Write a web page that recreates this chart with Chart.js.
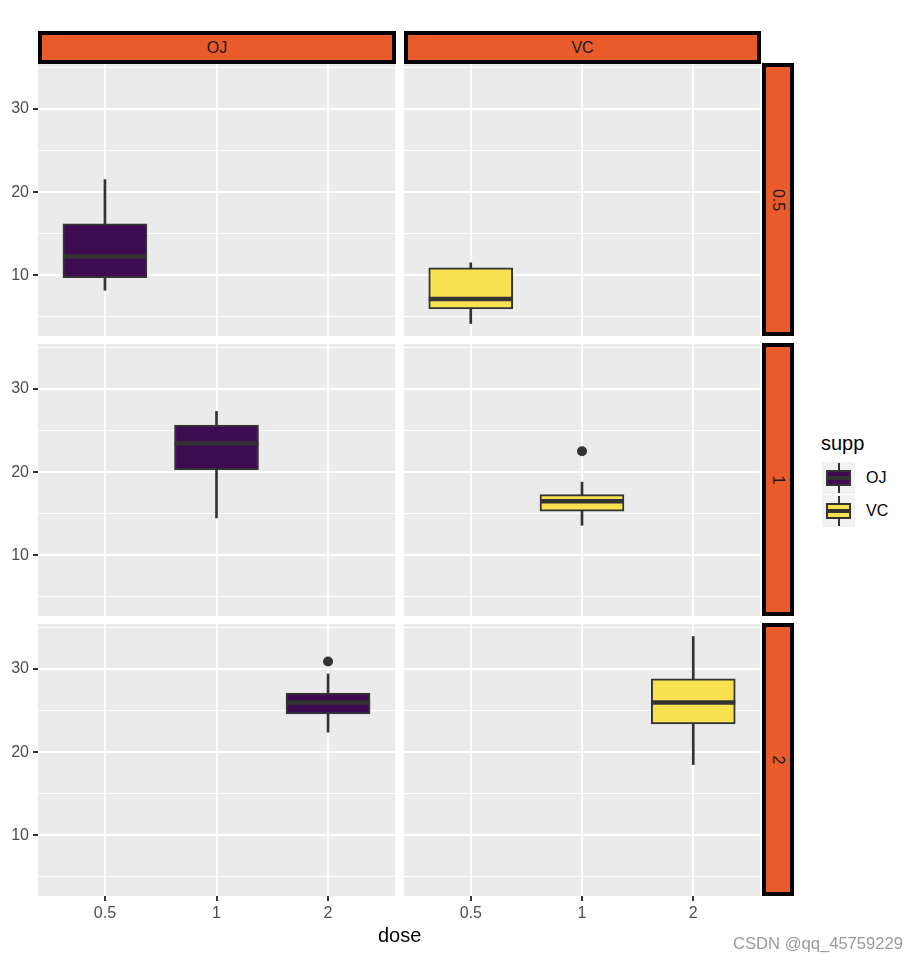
<!DOCTYPE html>
<html>
<head>
<meta charset="utf-8">
<script src="https://cdn.jsdelivr.net/npm/chart.js@4.4.1/dist/chart.umd.min.js"></script>
<style>
  body { margin: 0; background: #fff; width: 918px; height: 962px; position: relative; overflow: hidden;
         font-family: "Liberation Sans", Arial, sans-serif; }
  canvas.panel { position: absolute; }
  .strip { position: absolute; box-sizing: border-box; background: #EA5B2C; border: 4px solid #000;
           color: #1a1a1a; font-size: 16px; display: flex; align-items: center; justify-content: center; }
  .strip.side span { transform: rotate(90deg); white-space: nowrap; }
  .txt { position: absolute; white-space: nowrap; line-height: 1; }
  .key { position: absolute; left: 822px; width: 33px; height: 32px; background: #F2F2F2; }
  .key .wh { position: absolute; left: 15.5px; top: 1px; width: 2px; height: 30px; background: #333; }
  .key .bx { position: absolute; left: 4px; top: 8px; width: 25px; height: 16px; box-sizing: border-box;
             border: 2px solid #333; }
  .key .md { position: absolute; left: 4px; top: 14px; width: 25px; height: 4px; background: #333; }
</style>
</head>
<body>
<script>
// facets
const doses = ["0.5", "1", "2"];
const supps = ["OJ", "VC"];

// y axis
const yTicks = [10, 20, 30];
const yGrid = [5, 10, 15, 20, 25, 30, 35];
const yRange = [2.7, 35.4];

// box summaries per dose (len)
const ojLow = [8.2, 14.5, 22.4];
const ojQ1 = [9.7, 20.3, 24.6];
const ojMed = [12.25, 23.45, 25.95];
const ojQ3 = [16.2, 25.65, 27.1];
const ojHigh = [21.5, 27.3, 29.4];
const ojOut = [[], [], [30.9]];

const vcLow = [4.2, 13.6, 18.5];
const vcQ1 = [5.95, 15.3, 23.4];
const vcMed = [7.15, 16.5, 25.95];
const vcQ3 = [10.9, 17.3, 28.8];
const vcHigh = [11.5, 18.8, 33.9];
const vcOut = [[], [22.5], []];

const fills = ["#3E0A51", "#F9E250"];

// layout
const FONT = "'Liberation Sans', Arial, sans-serif";
const panelLeft = [38, 404];
const panelWidth = [357, 356];
const rowTop = [64, 344, 624];
const rowHeight = 272;
const yAxisW = 38;
const xAxisH = 40;

const series = {
  OJ: { low: ojLow, q1: ojQ1, med: ojMed, q3: ojQ3, high: ojHigh, out: ojOut },
  VC: { low: vcLow, q1: vcQ1, med: vcMed, q3: vcQ3, high: vcHigh, out: vcOut }
};

const panelBg = {
  id: "panelBg",
  beforeDraw(chart) {
    const a = chart.chartArea;
    chart.ctx.save();
    chart.ctx.fillStyle = "#EBEBEB";
    chart.ctx.fillRect(a.left, a.top, a.right - a.left, a.bottom - a.top);
    chart.ctx.restore();
  }
};

const medianLine = {
  id: "median",
  afterDatasetsDraw(chart, args, opts) {
    const bar = chart.getDatasetMeta(0).data[0];
    if (!bar) return;
    const y = chart.scales.y.getPixelForValue(opts.value);
    const ctx = chart.ctx;
    ctx.save();
    ctx.strokeStyle = "#333";
    ctx.lineWidth = 4.5;
    ctx.beginPath();
    ctx.moveTo(bar.x - bar.width / 2, y);
    ctx.lineTo(bar.x + bar.width / 2, y);
    ctx.stroke();
    ctx.restore();
  }
};

function makePanel(c, r) {
  const s = series[supps[c]];
  const xv = r + 1;
  const canvas = document.createElement("canvas");
  canvas.className = "panel";
  const w = (c === 0 ? yAxisW : 0) + panelWidth[c];
  const h = rowHeight + (r === 2 ? xAxisH : 0);
  canvas.width = w;
  canvas.height = h;
  canvas.style.left = (c === 0 ? 0 : panelLeft[c]) + "px";
  canvas.style.top = rowTop[r] + "px";
  document.body.appendChild(canvas);

  new Chart(canvas.getContext("2d"), {
    type: "bar",
    data: {
      datasets: [
        {
          data: [{ x: xv, y: [s.q1[r], s.q3[r]] }],
          backgroundColor: fills[c],
          borderColor: "#333",
          borderWidth: 2,
          borderSkipped: false,
          barThickness: 84,
          grouped: false,
          order: 1
        },
        {
          data: [{ x: xv, y: [s.low[r], s.high[r]] }],
          backgroundColor: "#333",
          borderWidth: 0,
          barThickness: 2,
          grouped: false,
          order: 2
        },
        {
          type: "scatter",
          data: s.out[r].map(v => ({ x: xv, y: v })),
          pointRadius: 5,
          backgroundColor: "#333",
          borderWidth: 0,
          order: 0
        }
      ]
    },
    options: {
      responsive: false,
      animation: false,
      events: [],
      layout: { padding: 0, autoPadding: false },
      plugins: {
        legend: { display: false },
        tooltip: { enabled: false },
        median: { value: s.med[r] }
      },
      scales: {
        x: {
          type: "linear",
          min: 0.4,
          max: 3.6,
          offset: false,
          afterBuildTicks: sc => { sc.ticks = doses.map((d, i) => ({ value: i + 1 })); },
          afterFit: sc => {
            sc.height = r === 2 ? xAxisH : 0;
            sc.paddingLeft = 0; sc.paddingRight = 0;
          },
          grid: { color: "#fff", lineWidth: 2, offset: false, drawTicks: r === 2,
                  tickLength: 5, tickColor: "#333", tickWidth: 2 },
          border: { display: false },
          ticks: {
            display: r === 2, autoSkip: false, maxRotation: 0, padding: 3,
            color: "#4D4D4D", font: { family: FONT, size: 16 },
            callback: v => doses[Math.round(v) - 1]
          }
        },
        y: {
          type: "linear",
          min: yRange[0],
          max: yRange[1],
          afterBuildTicks: sc => { sc.ticks = yGrid.map(v => ({ value: v })); },
          afterFit: sc => {
            sc.width = c === 0 ? yAxisW : 0;
            sc.paddingTop = 0; sc.paddingBottom = 0;
          },
          grid: {
            color: "#fff",
            lineWidth: ctx => (ctx.tick && yTicks.includes(ctx.tick.value)) ? 2 : 1,
            drawTicks: c === 0,
            tickLength: 5,
            tickWidth: 2,
            tickColor: ctx => (ctx.tick && yTicks.includes(ctx.tick.value)) ? "#333" : "rgba(0,0,0,0)"
          },
          border: { display: false },
          ticks: {
            display: c === 0, padding: 4, color: "#4D4D4D", font: { family: FONT, size: 16 },
            callback: v => yTicks.includes(v) ? String(v) : ""
          }
        }
      }
    },
    plugins: [panelBg, medianLine]
  });
}

for (let c = 0; c < supps.length; c++) {
  for (let r = 0; r < doses.length; r++) makePanel(c, r);
}

// strips
function addDiv(cls, css, html) {
  const d = document.createElement("div");
  d.className = cls;
  Object.assign(d.style, css);
  d.innerHTML = html;
  document.body.appendChild(d);
  return d;
}

supps.forEach((s, c) => {
  addDiv("strip", { left: panelLeft[c] + "px", top: "31px", width: (panelWidth[c] + 1) + "px", height: "33px" }, s);
});
doses.forEach((d, r) => {
  addDiv("strip side", { left: "762px", top: (rowTop[r] - 1) + "px", width: "32px", height: (rowHeight + 1) + "px" },
         "<span>" + d + "</span>");
});

// axis titles
addDiv("txt", { left: "378px", top: "925px", fontSize: "20px", color: "#000" }, "dose");
addDiv("txt", { left: "-21px", top: "471px", fontSize: "20px", color: "#000", transform: "rotate(-90deg)",
               transformOrigin: "center center" }, "len");

// legend
addDiv("txt", { left: "821px", top: "433px", fontSize: "20px", color: "#000" }, "supp");
supps.forEach((s, i) => {
  const top = 462 + i * 32.5;
  const k = addDiv("key", { top: top + "px" }, "<div class='wh'></div><div class='bx'></div><div class='md'></div>");
  k.querySelector(".bx").style.background = fills[i];
  addDiv("txt", { left: "866px", top: (top + 8) + "px", fontSize: "16px", color: "#000" }, s);
});

// watermark
addDiv("txt", { left: "733px", top: "936px", fontSize: "16.6px", color: "#9a9a9a" }, "CSDN @qq_45759229");
</script>
</body>
</html>
